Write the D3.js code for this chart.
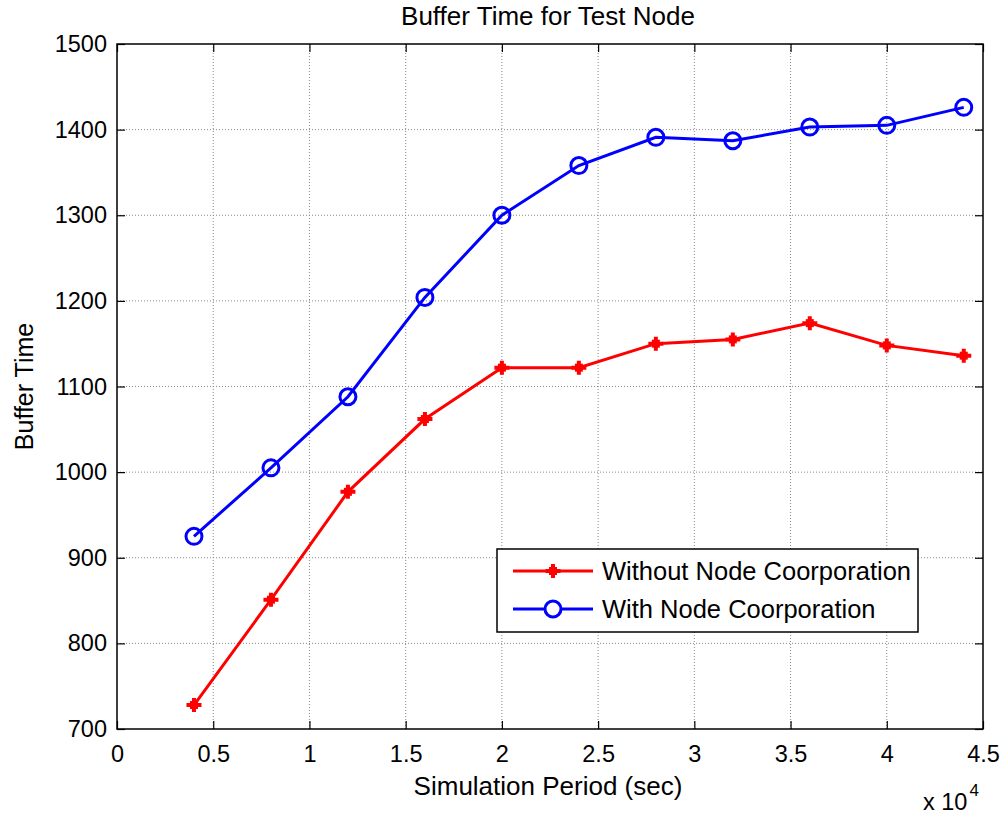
<!DOCTYPE html>
<html>
<head>
<meta charset="utf-8">
<script src="https://cdn.jsdelivr.net/npm/d3@7"></script>
<style>
  body { margin: 0; background: #fff; }
  text { font-family: "Liberation Sans", Arial, sans-serif; fill: #000; }
</style>
</head>
<body>
<div id="chart"></div>
<script>
// Data (x in units of 10^4 sec)
const periods = [0.4, 0.8, 1.2, 1.6, 2.0, 2.4, 2.8, 3.2, 3.6, 4.0, 4.4];
const withoutCoop = [728, 851, 977, 1062, 1122, 1122, 1150, 1155, 1174, 1148, 1136];
const withCoop = [925, 1005, 1088, 1204, 1300, 1358, 1391, 1387, 1403, 1405, 1426];
const xTicks = [0, 0.5, 1, 1.5, 2, 2.5, 3, 3.5, 4, 4.5];
const yTicks = [700, 800, 900, 1000, 1100, 1200, 1300, 1400, 1500];
const seriesNames = ["Without Node Coorporation", "With Node Coorporation"];

const W = 1008, H = 815;
const margin = { top: 44, right: 25, bottom: 86, left: 117 };
const width = W - margin.left - margin.right,
    height = H - margin.top - margin.bottom;

const svg = d3.select("#chart").append("svg")
    .attr("width", W).attr("height", H);
const g = svg.append("g")
    .attr("transform", `translate(${margin.left},${margin.top})`);

const x = d3.scaleLinear().domain([0, 4.5]).range([0, width]);
const y = d3.scaleLinear().domain([700, 1500]).range([height, 0]);

// Grid lines (dotted)
g.selectAll(".vgrid").data(xTicks.slice(1, -1)).enter().append("line")
    .attr("x1", d => x(d)).attr("x2", d => x(d))
    .attr("y1", 0).attr("y2", height)
    .attr("stroke", "#888").attr("stroke-width", 1)
    .attr("stroke-dasharray", "1,2");
g.selectAll(".hgrid").data(yTicks.slice(1, -1)).enter().append("line")
    .attr("x1", 0).attr("x2", width)
    .attr("y1", d => y(d)).attr("y2", d => y(d))
    .attr("stroke", "#888").attr("stroke-width", 1)
    .attr("stroke-dasharray", "1,2");

// Axes with inward ticks
g.append("g").attr("transform", `translate(0,${height})`)
    .call(d3.axisBottom(x).tickValues(xTicks).tickFormat(d3.format("")).tickSizeInner(-8).tickSizeOuter(0).tickPadding(16))
    .call(a => a.select(".domain").remove())
    .call(a => a.selectAll("text").style("font-size", "23.5px").attr("dy", "0.71em"));
g.append("g")
    .call(d3.axisTop(x).tickValues(xTicks).tickFormat("").tickSizeInner(-8).tickSizeOuter(0))
    .call(a => a.select(".domain").remove());
g.append("g")
    .call(d3.axisLeft(y).tickValues(yTicks).tickFormat(d3.format("d")).tickSizeInner(-8).tickSizeOuter(0).tickPadding(10))
    .call(a => a.select(".domain").remove())
    .call(a => a.selectAll("text").style("font-size", "23.5px"));
g.append("g").attr("transform", `translate(${width},0)`)
    .call(d3.axisRight(y).tickValues(yTicks).tickFormat("").tickSizeInner(-8).tickSizeOuter(0))
    .call(a => a.select(".domain").remove());
g.selectAll(".tick line").attr("stroke", "#000").attr("stroke-width", 1.2);

// Box
g.append("rect").attr("width", width).attr("height", height)
    .attr("fill", "none").attr("stroke", "#000").attr("stroke-width", 1.5);

// Lines
const line = d3.line().x(d => x(d[0])).y(d => y(d[1]));
const redPts = periods.map((p, i) => [p, withoutCoop[i]]);
const bluePts = periods.map((p, i) => [p, withCoop[i]]);

g.append("path").datum(redPts).attr("d", line)
    .attr("fill", "none").attr("stroke", "#ff0000").attr("stroke-width", 3);
g.append("path").datum(bluePts).attr("d", line)
    .attr("fill", "none").attr("stroke", "#0000ff").attr("stroke-width", 3);

// Plus marker
function plusMarker(sel, cx, cy) {
    sel.append("path")
        .attr("d", `M${cx - 7.5},${cy}H${cx + 7.5}M${cx},${cy - 7}V${cy + 7}`)
        .attr("stroke", "#ff0000").attr("stroke-width", 4);
    sel.append("rect").attr("x", cx - 4).attr("y", cy - 4)
        .attr("width", 8).attr("height", 8).attr("fill", "#ff0000");
}
redPts.forEach(d => plusMarker(g, x(d[0]), y(d[1])));

g.selectAll(".circ").data(bluePts).enter().append("circle")
    .attr("cx", d => x(d[0])).attr("cy", d => y(d[1])).attr("r", 8)
    .attr("fill", "none").attr("stroke", "#0000ff").attr("stroke-width", 3);

// Title and labels
svg.append("text").attr("x", 548).attr("y", 25)
    .attr("text-anchor", "middle").style("font-size", "26px")
    .text("Buffer Time for Test Node");
svg.append("text").attr("x", 548).attr("y", 795)
    .attr("text-anchor", "middle").style("font-size", "26px")
    .text("Simulation Period (sec)");
svg.append("text")
    .attr("transform", `translate(33,${margin.top + height / 2}) rotate(-90)`)
    .attr("text-anchor", "middle").style("font-size", "25px")
    .text("Buffer Time");

// x 10^4 multiplier
const mult = svg.append("text").attr("x", 923).attr("y", 810).style("font-size", "23.5px");
mult.append("tspan").text("x 10");
mult.append("tspan").attr("dy", -14).attr("dx", 2).style("font-size", "17px").text("4");

// Legend
const lg = svg.append("g").attr("transform", "translate(497,549)");
lg.append("rect").attr("width", 421).attr("height", 83)
    .attr("fill", "#fff").attr("stroke", "#000").attr("stroke-width", 1.5);
seriesNames.forEach((name, i) => {
    const ly = 22 + i * 38;
    lg.append("line").attr("x1", 16).attr("x2", 96).attr("y1", ly).attr("y2", ly)
        .attr("stroke", i === 0 ? "#ff0000" : "#0000ff").attr("stroke-width", 3);
    if (i === 0) plusMarker(lg, 56, ly);
    else lg.append("circle").attr("cx", 56).attr("cy", ly).attr("r", 8)
        .attr("fill", "#fff").attr("stroke", "#0000ff").attr("stroke-width", 3);
    lg.append("text").attr("x", 105).attr("y", ly).attr("dy", "0.35em")
        .style("font-size", "25.5px").text(name);
});
</script>
</body>
</html>
